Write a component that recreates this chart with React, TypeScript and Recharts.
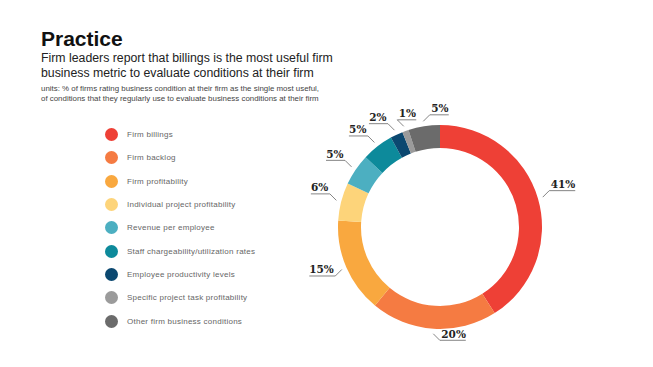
import { PieChart, Pie, Cell, Legend } from "recharts";

const categories = [
  "Firm billings",
  "Firm backlog",
  "Firm profitability",
  "Individual project profitability",
  "Revenue per employee",
  "Staff chargeability/utilization rates",
  "Employee productivity levels",
  "Specific project task profitability",
  "Other firm business conditions",
];
const shares = [41, 20, 15, 6, 5, 5, 2, 1, 5];
const colors = ["#ee4036", "#f57b42", "#f9a83f", "#fdd47a", "#4cafc1", "#0d8a9b", "#0b4870", "#9b9b9b", "#6b6b6b"];

const data = categories.map((name, i) => ({ name, value: shares[i] }));

const RAD = Math.PI / 180;

function SliceLabel(props: any) {
  const { cx, cy, midAngle, outerRadius, value } = props;
  const cos = Math.cos(-midAngle * RAD);
  const sin = Math.sin(-midAngle * RAD);
  const r = outerRadius + 5;
  const sx = cx + r * cos;
  const sy = cy + r * sin;
  // leader heads out diagonally, underline runs under the text
  const lead = cos < -0.2 ? -1 : 1;
  const under = cos < -0.38 ? -1 : 1;
  const vdir = sin > 0 ? 1 : -1;
  const ex = sx + lead * 6.5;
  const ey = sy + vdir * 6.5;
  const text = `${value}%`;
  const w = text.length * 7 + 2;
  return (
    <g>
      <polyline
        points={`${sx},${sy} ${ex},${ey} ${ex + under * (w + 3)},${ey}`}
        fill="none"
        stroke="#666"
        strokeWidth={0.8}
      />
      <text
        x={ex + under * 1.5}
        y={ey - 2.5}
        textAnchor={under > 0 ? "start" : "end"}
        fontFamily="DejaVu Serif"
        fontWeight="bold"
        fontSize={10.5}
        fill="#222"
      >
        {text}
      </text>
    </g>
  );
}

function LegendList() {
  return (
    <div>
      {categories.map((name, i) => (
        <div key={name} style={{ display: "flex", alignItems: "center", height: 23.3 }}>
          <span
            style={{
              width: 13,
              height: 13,
              borderRadius: "50%",
              background: colors[i],
              display: "inline-block",
              marginRight: 9,
              flexShrink: 0,
            }}
          />
          <span style={{ fontSize: 8, color: "#666", fontFamily: "Liberation Sans", letterSpacing: 0.25 }}>
            {name}
          </span>
        </div>
      ))}
    </div>
  );
}

export default function App() {
  return (
    <div style={{ position: "absolute", left: 0, top: 0, width: 653, height: 367, background: "#fff" }}>
      <div style={{ position: "absolute", left: 41, top: 27, fontFamily: "Liberation Sans", color: "#111" }}>
        <div style={{ fontSize: 21, fontWeight: "bold", lineHeight: "24px" }}>Practice</div>
        <div style={{ fontSize: 12.3, lineHeight: "15px", color: "#222" }}>
          Firm leaders report that billings is the most useful firm
          <br />
          business metric to evaluate conditions at their firm
        </div>
        <div style={{ fontSize: 7.9, lineHeight: "10px", color: "#444", marginTop: 3 }}>
          units: % of firms rating business condition at their firm as the single most useful,
          <br />
          of conditions that they regularly use to evaluate business conditions at their firm
        </div>
      </div>
      <PieChart
        width={653}
        height={367}
        margin={{ top: 0, right: 0, bottom: 0, left: 0 }}
        style={{ position: "absolute", left: 0, top: 0 }}
      >
        <Pie
          data={data}
          dataKey="value"
          nameKey="name"
          cx={440}
          cy={227}
          innerRadius={79}
          outerRadius={102}
          startAngle={90}
          endAngle={-270}
          stroke="none"
          label={SliceLabel}
          labelLine={false}
          isAnimationActive={false}
        >
          {data.map((_, i) => (
            <Cell key={i} fill={colors[i]} />
          ))}
        </Pie>
        <Legend
          layout="vertical"
          content={LegendList}
          wrapperStyle={{ position: "absolute", left: 105, top: 123, width: 220 }}
        />
      </PieChart>
    </div>
  );
}
